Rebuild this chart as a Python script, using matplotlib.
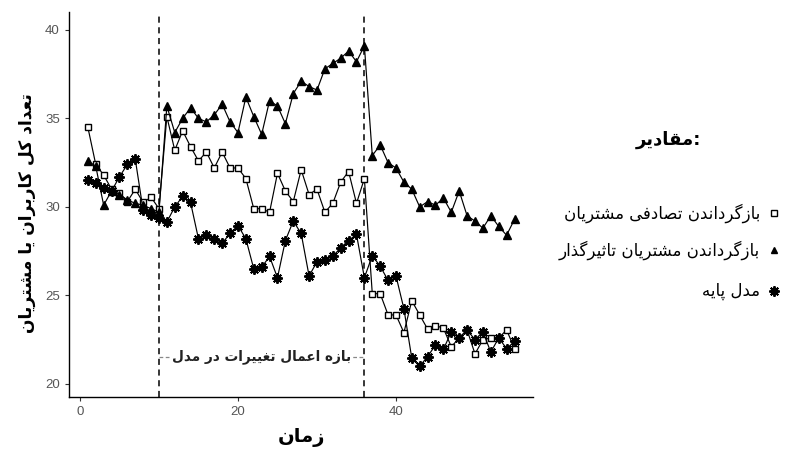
import matplotlib
matplotlib.use('Agg')

import matplotlib.pyplot as plt
from matplotlib.lines import Line2D

# زمان (محور افقی)
zaman = list(range(1, 56))

# بازگرداندن تصادفی مشتریان (مربع)
tasadofi = [34.5, 32.4, 31.8, 31.0, 30.8, 30.3, 31.0, 30.25, 30.55, 29.9,
            35.1, 33.2, 34.3, 33.4, 32.6, 33.1, 32.2, 33.1, 32.2, 32.2,
            31.6, 29.9, 29.9, 29.7, 31.9, 30.9, 30.3, 32.1, 30.7, 31.0,
            29.7, 30.2, 31.4, 32.0, 30.2, 31.6, 25.1, 25.1, 23.9, 23.9,
            22.9, 24.7, 23.9, 23.1, 23.3, 23.15, 22.1, 22.6, 23.05, 21.7,
            22.5, 22.6, 22.6, 23.05, 22.0]

# بازگرداندن مشتریان تاثیرگذار (مثلث)
tasirgozar = [32.6, 32.3, 30.1, 30.9, 30.7, 30.4, 30.2, 30.1, 29.9, 29.7,
              35.7, 34.2, 35.0, 35.6, 35.0, 34.8, 35.2, 35.8, 34.8, 34.2,
              36.2, 35.1, 34.1, 36.0, 35.7, 34.7, 36.4, 37.1, 36.8, 36.6,
              37.8, 38.1, 38.4, 38.8, 38.2, 39.1, 32.9, 33.5, 32.5, 32.2,
              31.4, 31.0, 30.0, 30.3, 30.1, 30.5, 29.7, 30.9, 29.5, 29.2,
              28.8, 29.5, 28.9, 28.4, 29.3]

# مدل پایه (ستاره)
paye = [31.5, 31.35, 31.05, 30.9, 31.7, 32.4, 32.7, 29.8, 29.55, 29.35,
        29.15, 30.0, 30.6, 30.25, 28.2, 28.4, 28.2, 27.95, 28.5, 28.95,
        28.2, 26.5, 26.6, 27.2, 26.0, 28.1, 29.2, 28.5, 26.1, 26.9,
        27.0, 27.2, 27.7, 28.1, 28.45, 26.0, 27.25, 26.65, 25.85, 26.1,
        24.25, 21.45, 21.0, 21.55, 22.2, 21.95, 22.95, 22.6, 23.05, 22.5,
        22.95, 21.8, 22.6, 22.0, 22.4]

baze = [10, 36]  # شروع و پایان بازه تغییرات
x_ticks = [0, 20, 40]
y_ticks = [20, 25, 30, 35, 40]

# --- شکل دادن حروف فارسی (matplotlib خودش اتصال حروف را انجام نمی‌دهد) ---
FORMS = {
    'ا': ('\uFE8D', '\uFE8E', None, None),
    'ب': ('\uFE8F', '\uFE90', '\uFE91', '\uFE92'),
    'پ': ('\uFB56', '\uFB57', '\uFB58', '\uFB59'),
    'ت': ('\uFE95', '\uFE96', '\uFE97', '\uFE98'),
    'ث': ('\uFE99', '\uFE9A', '\uFE9B', '\uFE9C'),
    'د': ('\uFEA9', '\uFEAA', None, None),
    'ذ': ('\uFEAB', '\uFEAC', None, None),
    'ر': ('\uFEAD', '\uFEAE', None, None),
    'ز': ('\uFEAF', '\uFEB0', None, None),
    'ش': ('\uFEB5', '\uFEB6', '\uFEB7', '\uFEB8'),
    'ص': ('\uFEB9', '\uFEBA', '\uFEBB', '\uFEBC'),
    'ع': ('\uFEC9', '\uFECA', '\uFECB', '\uFECC'),
    'غ': ('\uFECD', '\uFECE', '\uFECF', '\uFED0'),
    'ف': ('\uFED1', '\uFED2', '\uFED3', '\uFED4'),
    'ق': ('\uFED5', '\uFED6', '\uFED7', '\uFED8'),
    'ک': ('\uFB8E', '\uFB8F', '\uFB90', '\uFB91'),
    'گ': ('\uFB92', '\uFB93', '\uFB94', '\uFB95'),
    'ل': ('\uFEDD', '\uFEDE', '\uFEDF', '\uFEE0'),
    'م': ('\uFEE1', '\uFEE2', '\uFEE3', '\uFEE4'),
    'ن': ('\uFEE5', '\uFEE6', '\uFEE7', '\uFEE8'),
    'ه': ('\uFEE9', '\uFEEA', '\uFEEB', '\uFEEC'),
    'ی': ('\uFBFC', '\uFBFD', '\uFBFE', '\uFBFF'),
}


def fa(s):
    out = []
    for i, ch in enumerate(s):
        if ch not in FORMS:
            out.append(ch)
            continue
        iso, fin, ini, med = FORMS[ch]
        prev = s[i - 1] if i > 0 else ''
        nxt = s[i + 1] if i + 1 < len(s) else ''
        join_prev = prev in FORMS and FORMS[prev][2] is not None
        join_next = ini is not None and nxt in FORMS
        if join_prev and join_next:
            out.append(med)
        elif join_prev:
            out.append(fin)
        elif join_next:
            out.append(ini)
        else:
            out.append(iso)
    return ''.join(reversed(out))


FA_FONT = ['DejaVu Sans']
plt.rcParams['font.family'] = ['Liberation Sans', 'DejaVu Sans']

fig = plt.figure(figsize=(8.01, 4.5), dpi=100)
ax = fig.add_axes([0.086, 0.118, 0.580, 0.855])

sq = dict(marker='s', ms=4.6, mfc='white', mec='black', mew=1.0)
tri = dict(marker='^', ms=5.2, mfc='black', mec='black')
star = dict(marker=(8, 2, 0), ms=7.5, mec='black', mew=1.4)

ax.plot(zaman, tasadofi, color='black', lw=0.85, zorder=3, **sq)
ax.plot(zaman, tasirgozar, color='black', lw=0.85, zorder=3, **tri)
ax.plot(zaman, paye, color='black', lw=0.85, zorder=3, **star)

for b in baze:
    ax.axvline(b, color='black', lw=1.1, ls=(0, (4, 3)), zorder=2)

# بازه اعمال تغییرات
ax.plot(baze, [21.55, 21.55], color='#888888', lw=0.9, ls=(0, (3, 2)), zorder=1)
ax.text(sum(baze) / 2, 21.55, fa('بازه اعمال تغییرات در مدل'), family=FA_FONT,
        fontsize=9.8, fontweight='bold', color='#222222', ha='center', va='center',
        bbox=dict(facecolor='white', edgecolor='none', pad=1.0), zorder=4)

ax.set_xlim(-1.4, 57.4)
ax.set_ylim(19.27, 41.0)
ax.set_xticks(x_ticks)
ax.set_yticks(y_ticks)
ax.tick_params(colors='#333333', labelcolor='#555555', labelsize=9.5, length=3)
for s in ['top', 'right']:
    ax.spines[s].set_visible(False)
for s in ['left', 'bottom']:
    ax.spines[s].set_linewidth(1.0)

fig.text(0.376, 0.028, fa('زمان'), family=FA_FONT, fontsize=14, fontweight='bold',
         ha='center', va='center')
fig.text(0.034, 1 - 213 / 450, fa('تعداد کل کاربران یا مشتریان'), family=FA_FONT,
         fontsize=12.3, fontweight='bold', rotation=90, ha='center', va='center')

# راهنما
fig.text(668 / 801, 1 - 140 / 450, fa('مقادیر') + ':', family=FA_FONT, fontsize=13,
         fontweight='bold', ha='center', va='center')
leg_labels = ['بازگرداندن تصادفی مشتریان', 'بازگرداندن مشتریان تاثیرگذار', 'مدل پایه']
leg_y = [213, 250, 291]
leg_marker = [dict(sq, ms=5), dict(tri, ms=5), dict(star, ms=7.5)]
for lab, yy, mk in zip(leg_labels, leg_y, leg_marker):
    fig.text(760 / 801, 1 - yy / 450, fa(lab), family=FA_FONT, fontsize=12,
             ha='right', va='center')
    fig.add_artist(Line2D([774 / 801], [1 - yy / 450], transform=fig.transFigure,
                          ls='none', color='black', **mk))

fig.savefig('out.png', dpi=100)
